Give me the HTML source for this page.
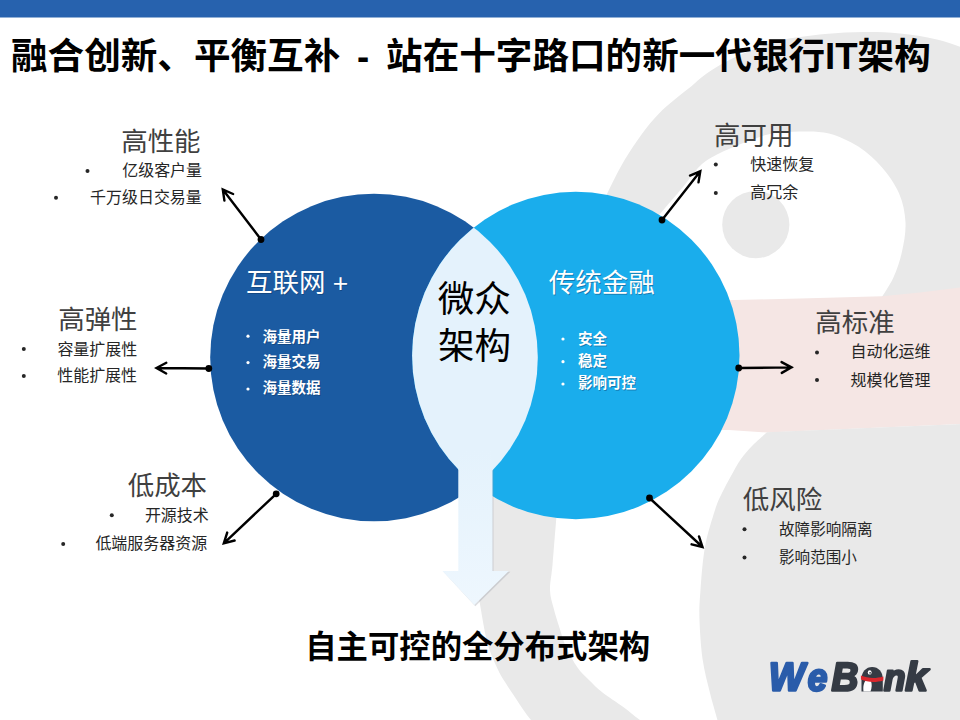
<!DOCTYPE html>
<html lang="zh-CN">
<head>
<meta charset="utf-8">
<title>融合创新、平衡互补 - 站在十字路口的新一代银行IT架构</title>
<style>
html,body{margin:0;padding:0;background:#fff}
body{width:960px;height:720px;overflow:hidden;position:relative;font-family:"Liberation Sans","Noto Sans CJK SC",sans-serif}
#slide{position:absolute;left:0;top:0;width:960px;height:720px;overflow:hidden;background:#fff}
#art{position:absolute;left:-12px;top:-12px;width:984px;height:744px;display:block;filter:blur(.45px)}
#txt{position:absolute;left:0;top:0;width:960px;height:720px;color:transparent}
#txt *{position:absolute;margin:0;padding:0;white-space:nowrap;overflow:visible;list-style:none;font-family:"Liberation Sans","Noto Sans CJK SC",sans-serif;color:transparent}
#txt section,#txt ul{position:static;overflow:visible;display:block}
</style>
</head>
<body>
<div id="slide">
<svg id="art" width="984" height="744" viewBox="-12 -12 984 744">
<path fill="#e9e9e9" d="M590.0 235.0C591.3 231.5 594.4 222.4 598.0 214.0C601.6 205.6 607.2 193.4 611.7 184.3C616.2 175.2 620.0 167.6 625.0 159.3C630.0 151.0 636.2 141.8 641.7 134.3C647.2 126.8 652.8 120.1 658.3 114.3C663.8 108.5 669.4 104.0 675.0 99.3C680.6 94.6 687.0 89.9 691.7 86.0C696.4 82.1 698.6 79.5 703.3 76.0C708.0 72.5 713.9 68.5 720.0 65.0C726.1 61.5 733.3 58.0 740.0 55.0C746.7 52.0 753.2 49.5 760.0 47.0C766.8 44.5 770.2 42.2 781.0 40.0C791.8 37.8 811.2 35.3 825.0 34.0C838.8 32.7 851.5 32.1 864.0 32.0C876.5 31.9 887.8 32.2 900.0 33.5C912.2 34.8 924.5 36.4 937.0 39.5C949.5 42.6 968.7 49.9 975.0 52.0L975 300L880.0 300.0C882.2 296.3 889.6 285.9 893.3 277.8C897.0 269.7 900.0 260.8 902.0 251.6C904.0 242.4 906.0 232.1 905.5 222.4C905.0 212.7 903.0 202.5 899.0 193.3C895.0 184.1 888.4 174.8 881.6 167.0C874.8 159.2 867.1 152.2 858.3 146.6C849.5 141.0 838.7 136.0 829.0 133.5C819.3 131.0 809.8 131.4 800.0 131.5C790.2 131.6 779.0 132.2 770.0 134.0C761.0 135.8 754.8 138.6 746.0 142.0C737.2 145.4 724.7 150.5 717.0 154.5C709.3 158.5 705.7 160.6 700.0 166.0C694.3 171.4 689.7 179.0 683.0 187.0C676.3 195.0 667.2 205.5 660.0 214.0C652.8 222.5 643.3 234.0 640.0 238.0Z"/>
<circle cx="755.8" cy="224.6" r="33.6" fill="#e9e9e9"/>
<path fill="#f5e6e4" d="M690 301L735 300L800 298.5L882 296.3L920 292.5L975 285.5V423.5L767 432.5L729 430H690Z"/>
<path fill="#e9e9e9" d="M767.0 432.3C764.7 434.4 757.3 440.6 753.0 445.0C748.7 449.4 744.7 453.8 741.0 459.0C737.3 464.2 734.2 470.3 731.0 476.0C727.8 481.7 724.7 487.3 722.0 493.0C719.3 498.7 717.8 501.1 715.0 510.0C712.2 519.0 707.4 533.4 705.0 546.7C702.6 560.0 701.4 577.8 700.5 590.0C699.6 602.2 699.1 608.3 699.5 620.0C699.9 631.7 701.0 647.8 702.7 660.0C704.5 672.2 707.5 682.7 710.0 693.0C712.5 703.3 716.2 715.0 718.0 722.0C719.8 729.0 720.5 732.8 721.0 735.0L975 735V423.5Z"/>
<path fill="#e9e9e9" d="M560.0 480.0C559.3 487.0 557.2 507.8 556.0 522.0C554.8 536.2 553.5 553.7 552.5 565.0C551.5 576.3 549.8 582.7 550.0 590.0C550.2 597.3 552.2 602.5 553.8 608.8C555.3 615.0 557.4 621.1 559.4 627.5C561.4 633.9 563.0 640.3 566.0 647.0C569.0 653.7 573.7 662.0 577.5 667.5C581.3 673.0 584.8 675.8 589.0 680.0C593.2 684.2 596.8 688.0 602.5 692.5C608.2 697.0 617.0 702.4 623.3 707.0C629.5 711.6 633.5 715.3 640.0 720.0C646.5 724.7 658.3 732.5 662.0 735.0L548.0 735.0C545.2 732.5 536.3 726.0 531.0 720.0C525.7 714.0 520.3 705.1 516.0 698.8C511.7 692.4 508.1 687.0 505.0 682.0C501.9 677.0 500.3 674.9 497.5 668.8C494.7 662.6 490.8 654.8 488.0 645.0C485.2 635.2 482.8 620.8 481.0 610.0C479.2 599.2 477.5 591.7 477.0 580.0C476.5 568.3 477.0 553.3 478.0 540.0C479.0 526.7 481.0 511.7 483.0 500.0C485.0 488.3 488.8 475.0 490.0 470.0Z"/>
<rect x="-12" y="-12" width="984" height="29.5" fill="#2762ae"/>
<circle cx="374.0" cy="357.5" r="163.8" fill="#1b5ba2"/>
<circle cx="575.8" cy="355.5" r="163.7" fill="#1aadec"/>
<defs><clipPath id="cl"><circle cx="374.0" cy="357.5" r="163.8"/></clipPath></defs>
<circle cx="575.8" cy="355.5" r="163.7" fill="#e4f2fc" clip-path="url(#cl)"/>
<defs><linearGradient id="ag" x1="0" y1="0" x2="0" y2="1"><stop offset="0" stop-color="#e4f2fc"/><stop offset="1" stop-color="#eef7fe"/></linearGradient></defs>
<path fill="#8a9097" opacity=".30" d="M459.3 470H493.5V571.8H510.3L475.3 606.3L443.5 571.8H459.3Z"/>
<path fill="url(#ag)" d="M458.3 450H492.5V571H508.8L474.3 605L442.5 571H458.3Z"/>
<circle cx="261.0" cy="239.5" r="3.4" fill="#000"/>
<path fill="none" stroke="#000" stroke-width="2.4" stroke-linecap="round" stroke-linejoin="miter" d="M261.0 239.5L222.8 189.5M224.4 200.6L222.8 189.5L233.1 194.0"/>
<circle cx="208.8" cy="368.5" r="3.4" fill="#000"/>
<path fill="none" stroke="#000" stroke-width="2.4" stroke-linecap="round" stroke-linejoin="miter" d="M208.8 368.5L156.5 368.0M166.2 373.5L156.5 368.0L166.3 362.7"/>
<circle cx="276.2" cy="493.8" r="3.4" fill="#000"/>
<path fill="none" stroke="#000" stroke-width="2.4" stroke-linecap="round" stroke-linejoin="miter" d="M276.2 493.8L223.8 543.3M234.6 540.5L223.8 543.3L227.2 532.6"/>
<circle cx="662.0" cy="220.0" r="3.4" fill="#000"/>
<path fill="none" stroke="#000" stroke-width="2.4" stroke-linecap="round" stroke-linejoin="miter" d="M662.0 220.0L700.3 171.3M690.0 175.6L700.3 171.3L698.5 182.4"/>
<circle cx="738.7" cy="368.0" r="3.4" fill="#000"/>
<path fill="none" stroke="#000" stroke-width="2.4" stroke-linecap="round" stroke-linejoin="miter" d="M738.7 368.0L791.5 367.4M781.6 362.1L791.5 367.4L781.8 372.9"/>
<circle cx="649.5" cy="498.0" r="3.4" fill="#000"/>
<path fill="none" stroke="#000" stroke-width="2.4" stroke-linecap="round" stroke-linejoin="miter" d="M649.5 498.0L702.5 547.0M699.0 536.4L702.5 547.0L691.6 544.3"/>
<circle cx="87.5" cy="170.9" r="2.0" fill="#262626"/>
<circle cx="56.0" cy="197.8" r="2.0" fill="#262626"/>
<circle cx="23.8" cy="348.9" r="2.0" fill="#262626"/>
<circle cx="23.8" cy="375.9" r="2.0" fill="#262626"/>
<circle cx="111.8" cy="515.2" r="2.0" fill="#262626"/>
<circle cx="63.2" cy="543.9" r="2.0" fill="#262626"/>
<circle cx="715.8" cy="164.6" r="2.0" fill="#262626"/>
<circle cx="715.8" cy="192.9" r="2.0" fill="#262626"/>
<circle cx="817.0" cy="352.4" r="2.0" fill="#262626"/>
<circle cx="817.0" cy="379.9" r="2.0" fill="#262626"/>
<circle cx="744.5" cy="529.2" r="2.0" fill="#262626"/>
<circle cx="744.5" cy="557.6" r="2.0" fill="#262626"/>
<circle cx="248.0" cy="336.2" r="1.6" fill="#fff"/>
<circle cx="248.0" cy="362.6" r="1.6" fill="#fff"/>
<circle cx="248.0" cy="389.0" r="1.6" fill="#fff"/>
<circle cx="563.0" cy="339.0" r="1.6" fill="#fff"/>
<circle cx="563.0" cy="361.7" r="1.6" fill="#fff"/>
<circle cx="563.0" cy="384.0" r="1.6" fill="#fff"/>
<path fill="#2a5caa" stroke="#2a5caa" stroke-width="2.50" stroke-linejoin="round" d="M795.51 690.55h-6.5l-.5-15.91l-.07-4.31l-.02-1.64q-1.11 3.13-1.7 4.68q-.58 1.55-6.93 17.18h-6.59l-1.65-27.6h5.2l.66 15.96q.13 3.3 .13 6.78l1.06-2.82l1.41-3.62l6.59-16.3h5.87l.78 22.74q.5-1.43 1.45-4q.96-2.58 7.25-18.74h5.4z"/>
<path fill="#2a5caa" stroke="#2a5caa" stroke-width="2.50" stroke-linejoin="round" d="M813.92 681.62q-.12 .72-.12 1.68q0 1.99 .79 3.05q.8 1.06 2.37 1.06q2.52 0 3.65-3.17l4.21 1.39q-1.29 2.99-3.19 4.15q-1.91 1.17-5 1.17q-3.66 0-5.72-2.17q-2.06-2.17-2.06-6.07q0-3.89 1.24-6.81q1.23-2.93 3.51-4.49q2.27-1.56 5.26-1.56q3.59 0 5.54 2.02q1.95 2.02 1.95 5.71q0 1.86-.41 4.04zM821.88 678.11l.06-1.06q0-2.01-.85-2.93q-.85-.92-2.23-.92q-1.65 0-2.77 1.25q-1.13 1.25-1.61 3.66z"/>
<path fill="#353b44" stroke="#353b44" stroke-width="2.50" stroke-linejoin="round" d="M837.2 662.95h10.55q4.54 0 6.87 1.62q2.33 1.61 2.33 4.77q0 2.68-1.49 4.39q-1.49 1.72-4.36 2.36q2.45 .45 3.84 2.07q1.38 1.62 1.38 3.95q0 4.13-2.83 6.29q-2.83 2.15-8.5 2.15h-12.74zM840.53 674.08h5.31q3.16 0 4.49-.9q1.33-.91 1.33-2.96q0-1.57-1.03-2.27q-1.03-.71-3.46-.71h-5.43zM838.34 686.26h5.93q3.77 0 5.24-.99q1.46-.99 1.46-3.28q0-1.76-1.23-2.7q-1.23-.94-4.01-.94h-5.96z"/>
<path fill="#353b44" stroke="#353b44" stroke-width="2.50" stroke-linejoin="round" d="M896.58 690.55l2.04-10.86q.45-2.27 .45-3.01q0-2.36-2.63-2.36q-1.74 0-3.22 1.5q-1.49 1.49-1.87 3.67l-2.03 11.06h-4.87l2.86-15.54q.28-1.44 .66-4.21h4.63q0 .16-.17 1.53q-.16 1.37-.25 1.84h.05q1.3-1.89 2.86-2.81q1.56-.91 3.58-.91q2.62 0 3.95 1.33q1.33 1.34 1.33 3.85q0 .46-.12 1.46q-.12 .99-.24 1.54l-2.19 11.92z"/>
<path fill="#353b44" stroke="#353b44" stroke-width="2.50" stroke-linejoin="round" d="M919.66 690.55l-3.74-9.81l-2.79 1.48l-1.7 8.33h-5.58l5.74-29.3h5.6l-3.33 16.78l9.27-8.84h6.42l-9.43 8.33l5.48 13.03z"/>
<g transform="translate(861.5 667)"><path fill="#353b44" d="M0 24.6V12C0 4.8 4.6 0 10.7 0C16.8 0 21.3 4.8 21.3 12V24.6Z"/><path fill="#fff" d="M2 24.6C1.3 19.5 2.4 15 5 12.6L9.4 13.8C10.6 17.2 10.4 21 9 24.6Z"/><path fill="#d9272d" d="M-0.6 8.6C6.5 11.4 14.5 11.6 21.9 9.4L21.9 13.4C14.5 15.6 6.5 15.4-0.6 12.6Z"/><ellipse cx="8.2" cy="5.4" rx="1.9" ry="2.2" fill="#fff"/><circle cx="8.6" cy="5.8" r=".9" fill="#353b44"/></g>
</svg>
<div id="txt">
<h1 style="left:11.0px;top:34.0px;width:926.0px;height:46.0px;font-size:36.58px;line-height:46.0px;font-weight:700;color:#000;word-spacing:6.7px">融合创新、平衡互补 - 站在十字路口的新一代银行IT架构</h1>
<section>
<h3 style="left:121.2px;top:128.9px;width:79.6px;height:26.0px;font-size:26.46px;line-height:26.0px;font-weight:400;color:#404040">高性能</h3>
<ul>
<li style="left:122.2px;top:163.0px;width:81.3px;height:16.3px;font-size:15.97px;line-height:16.3px;font-weight:400;color:#262626">亿级客户量</li>
<li style="left:90.0px;top:190.3px;width:113.5px;height:16.3px;font-size:15.97px;line-height:16.3px;font-weight:400;color:#262626">千万级日交易量</li>
</ul>
</section>
<section>
<h3 style="left:58.2px;top:307.0px;width:79.1px;height:26.0px;font-size:26.46px;line-height:26.0px;font-weight:400;color:#404040">高弹性</h3>
<ul>
<li style="left:57.4px;top:341.9px;width:81.1px;height:16.3px;font-size:15.97px;line-height:16.3px;font-weight:400;color:#262626">容量扩展性</li>
<li style="left:57.2px;top:368.2px;width:81.3px;height:16.2px;font-size:15.97px;line-height:16.2px;font-weight:400;color:#262626">性能扩展性</li>
</ul>
</section>
<section>
<h3 style="left:127.7px;top:473.2px;width:80.8px;height:26.1px;font-size:26.46px;line-height:26.1px;font-weight:400;color:#404040">低成本</h3>
<ul>
<li style="left:144.9px;top:508.1px;width:64.8px;height:16.1px;font-size:15.97px;line-height:16.1px;font-weight:400;color:#262626">开源技术</li>
<li style="left:95.4px;top:536.1px;width:114.3px;height:16.1px;font-size:15.97px;line-height:16.1px;font-weight:400;color:#262626">低端服务器资源</li>
</ul>
</section>
<section>
<h3 style="left:714.0px;top:123.1px;width:77.4px;height:26.2px;font-size:26.46px;line-height:26.2px;font-weight:400;color:#404040">高可用</h3>
<ul>
<li style="left:750.3px;top:157.1px;width:65.2px;height:16.2px;font-size:15.97px;line-height:16.2px;font-weight:400;color:#262626">快速恢复</li>
<li style="left:750.3px;top:184.8px;width:48.6px;height:16.2px;font-size:15.97px;line-height:16.2px;font-weight:400;color:#262626">高冗余</li>
</ul>
</section>
<section>
<h3 style="left:815.3px;top:309.8px;width:79.2px;height:26.0px;font-size:26.46px;line-height:26.0px;font-weight:400;color:#404040">高标准</h3>
<ul>
<li style="left:850.5px;top:344.4px;width:79.1px;height:16.2px;font-size:15.97px;line-height:16.2px;font-weight:400;color:#262626">自动化运维</li>
<li style="left:850.5px;top:373.3px;width:81.4px;height:16.2px;font-size:15.97px;line-height:16.2px;font-weight:400;color:#262626">规模化管理</li>
</ul>
</section>
<section>
<h3 style="left:742.8px;top:486.9px;width:81.2px;height:26.2px;font-size:26.46px;line-height:26.2px;font-weight:400;color:#404040">低风险</h3>
<ul>
<li style="left:779.0px;top:522.0px;width:95.0px;height:16.1px;font-size:15.58px;line-height:16.1px;font-weight:400;color:#262626">故障影响隔离</li>
<li style="left:779.0px;top:550.0px;width:79.6px;height:16.0px;font-size:15.58px;line-height:16.0px;font-weight:400;color:#262626">影响范围小</li>
</ul>
</section>
<section>
<h2 style="left:246.0px;top:268.0px;width:100.0px;height:30.0px;font-size:26.46px;line-height:30.0px;font-weight:400;color:#fff;text-shadow:.9px .9px 0 rgba(10,42,80,.38)">互联网 +</h2>
<ul>
<li style="left:262.6px;top:329.6px;width:57.2px;height:14.7px;font-size:14.50px;line-height:14.7px;font-weight:700;color:#fff;text-shadow:.9px .9px 0 rgba(10,42,80,.38)">海量用户</li>
<li style="left:262.6px;top:355.1px;width:58.0px;height:14.8px;font-size:14.50px;line-height:14.8px;font-weight:700;color:#fff;text-shadow:.9px .9px 0 rgba(10,42,80,.38)">海量交易</li>
<li style="left:262.6px;top:381.2px;width:58.7px;height:14.5px;font-size:14.50px;line-height:14.5px;font-weight:700;color:#fff;text-shadow:.9px .9px 0 rgba(10,42,80,.38)">海量数据</li>
</ul>
</section>
<section>
<h2 style="left:548.8px;top:269.5px;width:107.6px;height:26.1px;font-size:26.46px;line-height:26.1px;font-weight:400;color:#fff;text-shadow:.9px .9px 0 rgba(10,42,80,.38)">传统金融</h2>
<ul>
<li style="left:578.1px;top:331.9px;width:29.1px;height:14.6px;font-size:14.50px;line-height:14.6px;font-weight:700;color:#fff;text-shadow:.9px .9px 0 rgba(10,42,80,.38)">安全</li>
<li style="left:578.1px;top:354.0px;width:29.4px;height:14.6px;font-size:14.50px;line-height:14.6px;font-weight:700;color:#fff;text-shadow:.9px .9px 0 rgba(10,42,80,.38)">稳定</li>
<li style="left:578.1px;top:376.2px;width:58.7px;height:14.5px;font-size:14.50px;line-height:14.5px;font-weight:700;color:#fff;text-shadow:.9px .9px 0 rgba(10,42,80,.38)">影响可控</li>
</ul>
</section>
<h2 style="left:437.7px;top:282.3px;width:73.2px;height:35.3px;font-size:36.58px;line-height:35.3px;font-weight:400;color:#000">微众</h2>
<h2 style="left:438.0px;top:328.8px;width:71.7px;height:35.1px;font-size:36.58px;line-height:35.1px;font-weight:400;color:#000">架构</h2>
<h2 style="left:305.2px;top:632.0px;width:347.5px;height:32.6px;font-size:31.36px;line-height:32.6px;font-weight:700;color:#000">自主可控的全分布式架构</h2>
<div style="left:770.0px;top:658.0px;width:161.0px;height:36.0px;font-size:39.20px;line-height:36.0px;font-weight:700">WeBank</div>
</div>
</div>
</body>
</html>
